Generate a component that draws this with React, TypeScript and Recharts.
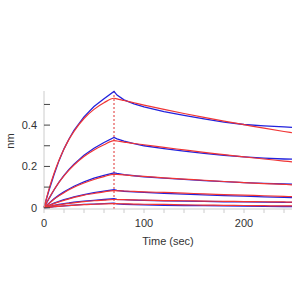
import React from "react";
import {
  LineChart,
  Line,
  XAxis,
  YAxis,
  ReferenceLine,
} from "recharts";

// sampling times (sec)
const times = [0, 5, 10, 15, 20, 25, 30, 40, 50, 60, 70, 73, 80, 90, 100, 120, 140, 160, 180, 200, 220, 240, 248];

// measured responses (blue)
const data1 = [0.002, 0.085, 0.16, 0.228, 0.285, 0.333, 0.375, 0.44, 0.49, 0.528, 0.563, 0.545, 0.522, 0.503, 0.488, 0.465, 0.447, 0.43, 0.414, 0.403, 0.396, 0.391, 0.389];
const data2 = [0.003, 0.044, 0.086, 0.124, 0.157, 0.186, 0.211, 0.254, 0.288, 0.316, 0.34, 0.333, 0.322, 0.31, 0.3, 0.286, 0.274, 0.263, 0.254, 0.246, 0.24, 0.236, 0.235];
const data3 = [0.002, 0.022, 0.043, 0.061, 0.077, 0.091, 0.104, 0.125, 0.143, 0.157, 0.169, 0.166, 0.16, 0.155, 0.15, 0.143, 0.137, 0.131, 0.126, 0.122, 0.118, 0.115, 0.114];
const data4 = [0.004, 0.012, 0.022, 0.031, 0.039, 0.046, 0.053, 0.064, 0.073, 0.08, 0.087, 0.084, 0.08, 0.077, 0.074, 0.07, 0.066, 0.062, 0.059, 0.056, 0.053, 0.05, 0.049];
const data5 = [0.001, 0.006, 0.011, 0.016, 0.02, 0.023, 0.027, 0.032, 0.036, 0.04, 0.044, 0.041, 0.039, 0.037, 0.036, 0.034, 0.032, 0.031, 0.029, 0.028, 0.027, 0.026, 0.026];
const data6 = [-0.002, 0.002, 0.005, 0.007, 0.009, 0.011, 0.013, 0.016, 0.018, 0.02, 0.022, 0.019, 0.017, 0.015, 0.014, 0.012, 0.011, 0.01, 0.009, 0.008, 0.007, 0.006, 0.006];

// fitted curves (red)
const fit1 = [0, 0.09, 0.166, 0.23, 0.284, 0.331, 0.37, 0.432, 0.476, 0.508, 0.53, 0.527, 0.519, 0.508, 0.497, 0.476, 0.456, 0.437, 0.419, 0.402, 0.385, 0.369, 0.363];
const fit2 = [0, 0.046, 0.087, 0.123, 0.154, 0.182, 0.207, 0.248, 0.28, 0.305, 0.325, 0.323, 0.318, 0.311, 0.305, 0.292, 0.28, 0.268, 0.257, 0.246, 0.236, 0.226, 0.222];
const fit3 = [0, 0.021, 0.041, 0.058, 0.073, 0.087, 0.0995, 0.12, 0.137, 0.151, 0.162, 0.161, 0.159, 0.155, 0.152, 0.145, 0.139, 0.133, 0.127, 0.122, 0.117, 0.113, 0.111];
const fit4 = [0, 0.0105, 0.02, 0.0285, 0.036, 0.043, 0.05, 0.061, 0.069, 0.077, 0.083, 0.082, 0.081, 0.079, 0.077, 0.074, 0.071, 0.067, 0.064, 0.061, 0.058, 0.055, 0.054];
const fit5 = [0, 0.005, 0.01, 0.014, 0.018, 0.021, 0.024, 0.03, 0.034, 0.037, 0.04, 0.0398, 0.039, 0.038, 0.037, 0.035, 0.034, 0.032, 0.031, 0.03, 0.029, 0.028, 0.027];
const fit6 = [0, 0.0025, 0.005, 0.007, 0.009, 0.011, 0.012, 0.015, 0.017, 0.019, 0.02, 0.0198, 0.019, 0.018, 0.017, 0.016, 0.014, 0.013, 0.012, 0.011, 0.01, 0.009, 0.009];

const measured = [data1, data2, data3, data4, data5, data6];
const fits = [fit1, fit2, fit3, fit4, fit5, fit6];

const xTicks = [0, 20, 40, 60, 80, 100, 120, 140, 160, 180, 200, 220, 240];
const xLabels = [0, 100, 200];
const yTicks = [0, 0.1, 0.2, 0.3, 0.4, 0.5];
const yLabels = [0, 0.2, 0.4];
const assocEnd = 70;

const chartData = times.map((t, i) => {
  const row: Record<string, number> = { t };
  measured.forEach((s, j) => (row[`d${j}`] = s[i]));
  fits.forEach((s, j) => (row[`f${j}`] = s[i]));
  return row;
});

const font = "'Liberation Sans', Arial, sans-serif";

const YTick = (props: any) => {
  const { x, y, payload } = props;
  const label = yLabels.includes(payload.value) ? String(payload.value) : "";
  return (
    <g>
      <line x1={x + 7} x2={x + 13} y1={y} y2={y} stroke="#444" strokeWidth={1} />
      <text x={x} y={y} dy={4} textAnchor="end" fontSize={11} fill="#333" fontFamily={font}>
        {label}
      </text>
    </g>
  );
};

const YTitle = () => (
  <text x={14} y={141} transform="rotate(-90 14 141)" textAnchor="middle" fontSize={11} fill="#333" fontFamily={font}>
    nm
  </text>
);

export default function App() {
  return (
    <div style={{ position: "absolute", left: 0, top: 0, width: 300, height: 300, background: "#fff" }}>
      <LineChart width={300} height={300} data={chartData} margin={{ top: 91, right: 8, left: 0, bottom: 51 }}>
        <XAxis
          dataKey="t"
          type="number"
          domain={[0, 248]}
          ticks={xTicks}
          tickFormatter={(v) => (xLabels.includes(v) ? String(v) : "")}
          interval={0}
          stroke="#ccc"
          tickSize={4}
          tickMargin={6}
          height={40}
          tick={{ fill: "#333", fontSize: 11, fontFamily: font }}
          label={{ value: "Time (sec)", position: "insideBottom", offset: 4, fill: "#333", fontSize: 11, fontFamily: font }}
        />
        <XAxis xAxisId="top" orientation="top" dataKey="t" type="number" domain={[0, 248]} tick={false} tickLine={false} stroke="#ddd" height={0} />
        <YAxis
          type="number"
          domain={[-0.006, 0.565]}
          ticks={yTicks}
          interval={0}
          width={44}
          stroke="#ccc"
          tickLine={false}
          tickSize={0}
          tickMargin={7}
          tick={<YTick />}
          label={{ content: <YTitle /> }}
        />
        <YAxis yAxisId="right" orientation="right" domain={[0, 1]} tick={false} tickLine={false} stroke="#ddd" width={0} />
        <ReferenceLine x={assocEnd} stroke="#e03030" strokeDasharray="2 2" strokeWidth={1} />
        {measured.map((_, j) => (
          <Line key={`d${j}`} dataKey={`d${j}`} type="linear" stroke="#2222dd" strokeWidth={1.3} dot={false} isAnimationActive={false} />
        ))}
        {fits.map((_, j) => (
          <Line key={`f${j}`} dataKey={`f${j}`} type="monotone" stroke="#f03535" strokeWidth={1.2} dot={false} isAnimationActive={false} />
        ))}
      </LineChart>
    </div>
  );
}
